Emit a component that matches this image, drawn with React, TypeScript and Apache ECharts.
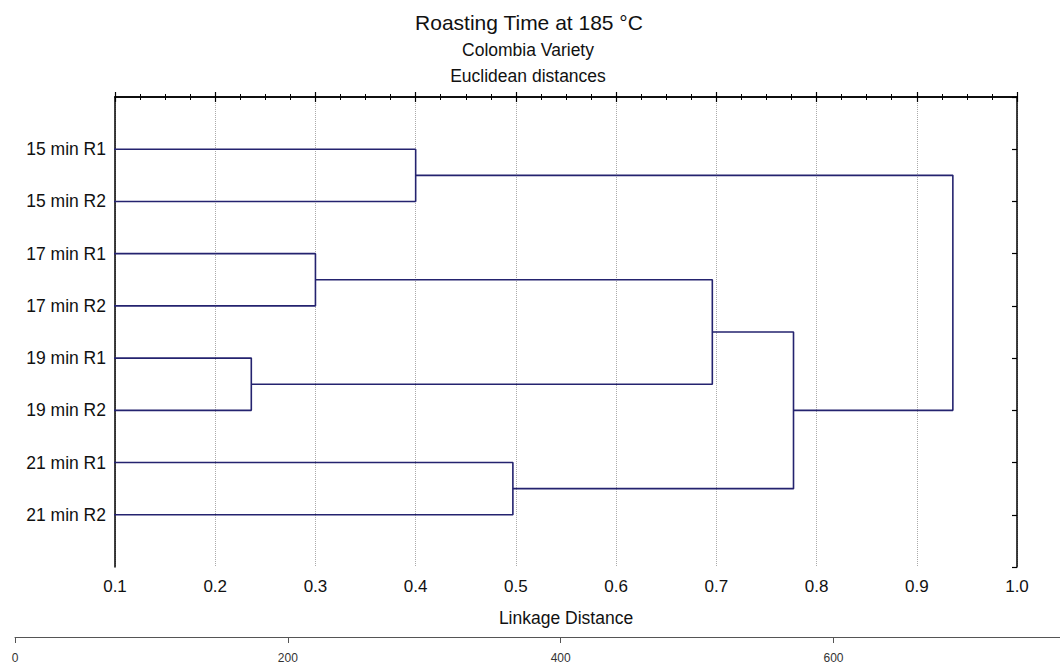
import React, { useEffect, useRef } from "react";
import * as echarts from "echarts";

const leaves = [
  "15 min R1",
  "15 min R2",
  "17 min R1",
  "17 min R2",
  "19 min R1",
  "19 min R2",
  "21 min R1",
  "21 min R2",
];
// merges in scipy style: node ids 0..7 are leaves, 8.. are merged clusters
const mergeLeft = [0, 2, 4, 6, 9, 12, 8];
const mergeRight = [1, 3, 5, 7, 10, 11, 13];
const mergeHeight = [0.4, 0.3, 0.236, 0.497, 0.696, 0.777, 0.936];

const distTicksMin = 0.1;
const distTicksMax = 1.0;
const rulerMax = 766;

const FONT = "'Liberation Sans', Arial, sans-serif";
const LINE_COLOR = "#24236f";

export default function App() {
  const ref = useRef<HTMLDivElement>(null);
  useEffect(() => {
    document.body.style.margin = "0";
    if (!ref.current) return;
    const chart = echarts.init(ref.current, undefined, { renderer: "svg" });

    const nodeY: number[] = leaves.map((_, i) => i + 1);
    const nodeH: number[] = leaves.map(() => 0);
    const series: any[] = [];
    mergeLeft.forEach((l, k) => {
      const r = mergeRight[k];
      const h = mergeHeight[k];
      series.push({
        type: "line",
        xAxisIndex: 0,
        yAxisIndex: 0,
        clip: true,
        symbol: "none",
        silent: true,
        lineStyle: { color: LINE_COLOR, width: 1.6 },
        data: [
          [nodeH[l], nodeY[l]],
          [h, nodeY[l]],
          [h, nodeY[r]],
          [nodeH[r], nodeY[r]],
        ],
      });
      nodeY.push((nodeY[l] + nodeY[r]) / 2);
      nodeH.push(h);
    });

    const axisLine = { show: true, lineStyle: { color: "#000", width: 1.5 } };

    chart.setOption({
      animation: false,
      backgroundColor: "#fff",
      textStyle: { fontFamily: FONT },
      graphic: [
        {
          type: "text",
          x: 529,
          y: 22,
          style: {
            text: "Roasting Time at 185 °C",
            fontSize: 21,
            fontFamily: FONT,
            fill: "#111",
            align: "center",
            verticalAlign: "middle",
          },
        },
        {
          type: "text",
          x: 528,
          y: 50,
          style: {
            text: "Colombia Variety",
            fontSize: 17.5,
            fontFamily: FONT,
            fill: "#111",
            align: "center",
            verticalAlign: "middle",
          },
        },
        {
          type: "text",
          x: 528,
          y: 76,
          style: {
            text: "Euclidean distances",
            fontSize: 17.5,
            fontFamily: FONT,
            fill: "#111",
            align: "center",
            verticalAlign: "middle",
          },
        },
      ],
      grid: [
        { left: 115, top: 97, width: 902, height: 470, containLabel: false },
        { left: 15, top: 636, right: 0, height: 1, containLabel: false },
      ],
      xAxis: [
        {
          type: "value",
          gridIndex: 0,
          position: "bottom",
          min: distTicksMin,
          max: distTicksMax,
          interval: 0.1,
          name: "Linkage Distance",
          nameLocation: "middle",
          nameGap: 42,
          nameTextStyle: { fontSize: 17.5, color: "#111", fontFamily: FONT },
          axisLine,
          axisTick: { show: true, inside: true, length: 5, lineStyle: { color: "#000", width: 1.2 } },
          minorTick: { show: true, splitNumber: 4, length: 3, lineStyle: { color: "#000", width: 1 } },
          axisLabel: {
            fontSize: 17,
            color: "#111",
            margin: 11,
            fontFamily: FONT,
            formatter: (v: number) => v.toFixed(1),
          },
          splitLine: {
            show: true,
            lineStyle: { color: "#aaa", type: "dotted", width: 1 },
          },
        },
        {
          type: "value",
          gridIndex: 0,
          position: "top",
          min: distTicksMin,
          max: distTicksMax,
          interval: 0.1,
          axisLine,
          axisTick: { show: true, inside: true, length: 5, lineStyle: { color: "#000", width: 1.2 } },
          minorTick: { show: true, splitNumber: 4, length: 3, lineStyle: { color: "#000", width: 1 } },
          axisLabel: { show: false },
          splitLine: { show: false },
        },
        {
          type: "value",
          gridIndex: 1,
          position: "bottom",
          min: 0,
          max: rulerMax,
          interval: 200,
          axisLine: { show: true, lineStyle: { color: "#555", width: 1 } },
          axisTick: { show: true, inside: false, length: 6, lineStyle: { color: "#555" } },
          axisLabel: {
            fontSize: 12,
            color: "#333",
            margin: 15,
            fontFamily: FONT,
            showMaxLabel: false,
            formatter: (v: number) => (v % 200 === 0 ? String(v) : ""),
          },
          splitLine: { show: false },
        },
      ],
      yAxis: [
        {
          type: "value",
          gridIndex: 0,
          position: "left",
          inverse: true,
          min: 0,
          max: 9,
          interval: 1,
          axisLine,
          axisTick: { show: false },
          axisLabel: {
            fontSize: 17.5,
            color: "#111",
            margin: 9,
            fontFamily: FONT,
            formatter: (v: number) => leaves[v - 1] ?? "",
          },
          splitLine: { show: false },
        },
        {
          type: "value",
          gridIndex: 0,
          position: "right",
          inverse: true,
          min: 0,
          max: 9,
          interval: 1,
          axisLine,
          axisTick: { show: true, inside: true, length: 5, lineStyle: { color: "#000", width: 1.2 } },
          axisLabel: { show: false },
          splitLine: { show: false },
        },
        {
          type: "value",
          gridIndex: 1,
          show: false,
          min: 0,
          max: 1,
        },
      ],
      series,
    });
    return () => chart.dispose();
  }, []);
  return <div ref={ref} style={{ width: 1060, height: 665 }} />;
}
